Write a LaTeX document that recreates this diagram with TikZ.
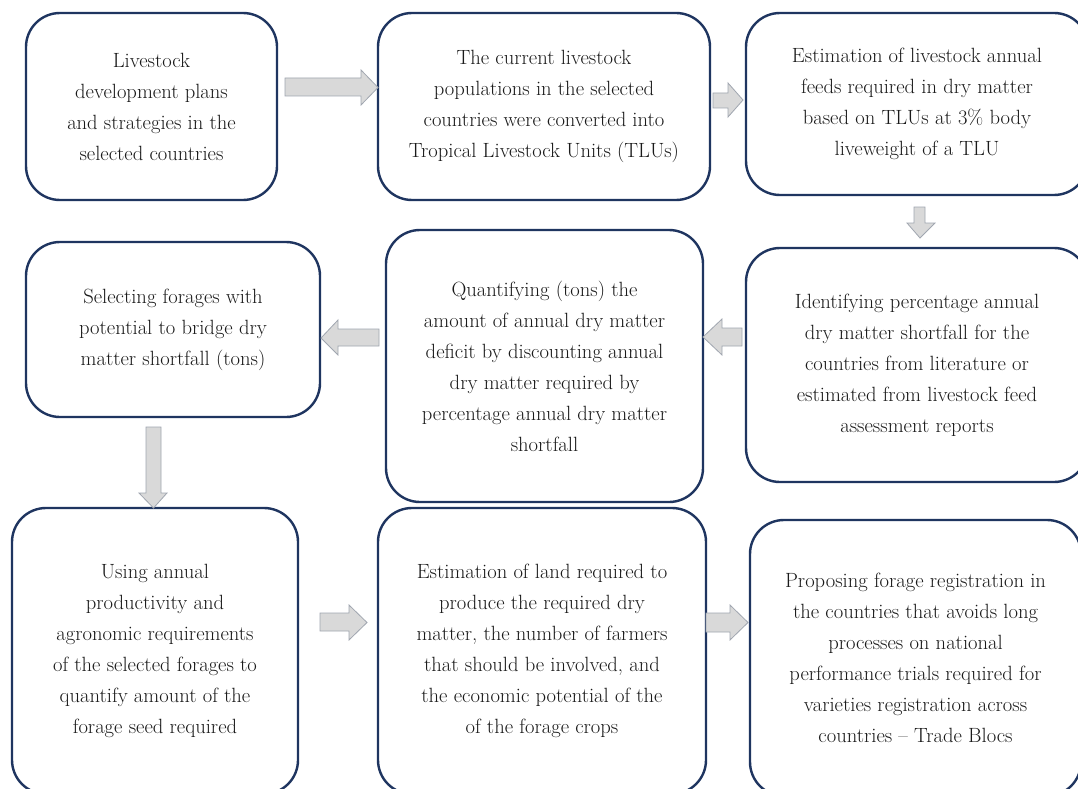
\documentclass[tikz,border=0pt]{standalone}
\usepackage{fontspec}
\definecolor{navy}{HTML}{1F3560}
\definecolor{arrfill}{HTML}{D9D9D9}
\definecolor{arrdraw}{HTML}{A0A6B0}
\definecolor{txt}{HTML}{1A1A1A}
\tikzset{
  flowbox/.style={draw=navy, line width=2.4pt, rounded corners=34pt, fill=white,
    align=center, inner sep=0pt, text=txt,
    font=\fontsize{20.6}{31}\selectfont},
  blockarrow/.style={fill=arrfill, draw=arrdraw, line width=0.8pt, line join=miter}
}
\begin{document}
\begin{tikzpicture}[x=1pt,y=-1pt]
\useasboundingbox (0,0) rectangle (1078,789);
\clip (0,0) rectangle (1078,789);
\fill[white] (0,0) rectangle (1078,789);

% row 1
\node[flowbox, minimum width=251pt, minimum height=187pt] (b1) at (151.5,106.5)
  {Livestock\\development plans\\and strategies in the\\selected countries};
\node[flowbox, minimum width=332pt, minimum height=187pt] (b2) at (544,106.5)
  {The current livestock\\populations in the selected\\countries were converted into\\Tropical Livestock Units (TLUs)};
\node[flowbox, minimum width=342pt, minimum height=182pt] (b3) at (917,104)
  {Estimation of livestock annual\\feeds required in dry matter\\based on TLUs at 3\% body\\liveweight of a TLU};

% row 2
\node[flowbox, minimum width=294pt, minimum height=175pt] (b6) at (173,329.5)
  {Selecting forages with\\potential to bridge dry\\matter shortfall (tons)};
\node[flowbox, minimum width=317pt, minimum height=272pt] (b5) at (544.5,366)
  {Quantifying (tons) the\\amount of annual dry matter\\deficit by discounting annual\\dry matter required by\\percentage annual dry matter\\shortfall};
\node[flowbox, minimum width=342pt, minimum height=234pt] (b4) at (917,365)
  {Identifying percentage annual\\dry matter shortfall for the\\countries from literature or\\estimated from livestock feed\\assessment reports};

% row 3
\node[flowbox, minimum width=286pt, minimum height=286pt] (b7) at (155,651)
  {Using annual\\productivity and\\agronomic requirements\\of the selected forages to\\quantify amount of the\\forage seed required};
\node[flowbox, minimum width=328pt, minimum height=286pt] (b8) at (542,651)
  {Estimation of land required to\\produce the required dry\\matter, the number of farmers\\that should be involved, and\\the economic potential of the\\of the forage crops};
\node[flowbox, minimum width=331pt, minimum height=276pt] (b9) at (915.5,658)
  {Proposing forage registration in\\the countries that avoids long\\processes on national\\performance trials required for\\varieties registration across\\countries -- Trade Blocs};

% block arrows
% b1 -> b2
\draw[blockarrow] (285,78) -- (361,78) -- (361,70) -- (378,87.5) -- (361,105) -- (361,96) -- (285,96) -- cycle;
% b2 -> b3
\draw[blockarrow] (713,93) -- (728,93) -- (728,83) -- (743,100) -- (728,117) -- (728,108) -- (713,108) -- cycle;
% b3 -> b4
\draw[blockarrow] (914,207) -- (925,207) -- (925,223) -- (935,223) -- (920,238) -- (907,223) -- (914,223) -- cycle;
% b4 -> b5
\draw[blockarrow] (742,328) -- (722,328) -- (722,319) -- (703,337) -- (722,355) -- (722,346) -- (742,346) -- cycle;
% b5 -> b6
\draw[blockarrow] (379,329) -- (338,329) -- (338,320) -- (321,338) -- (338,355) -- (338,346) -- (379,346) -- cycle;
% b6 -> b7
\draw[blockarrow] (146,427) -- (161,427) -- (161,493) -- (167,493) -- (153.5,508) -- (139,493) -- (146,493) -- cycle;
% b7 -> b8
\draw[blockarrow] (320,613) -- (349,613) -- (349,605) -- (367,622.5) -- (349,640) -- (349,631) -- (320,631) -- cycle;
% b8 -> b9
\draw[blockarrow] (706,613) -- (730,613) -- (730,605) -- (748,622.5) -- (730,640) -- (730,632) -- (706,632) -- cycle;
\end{tikzpicture}
\end{document}
